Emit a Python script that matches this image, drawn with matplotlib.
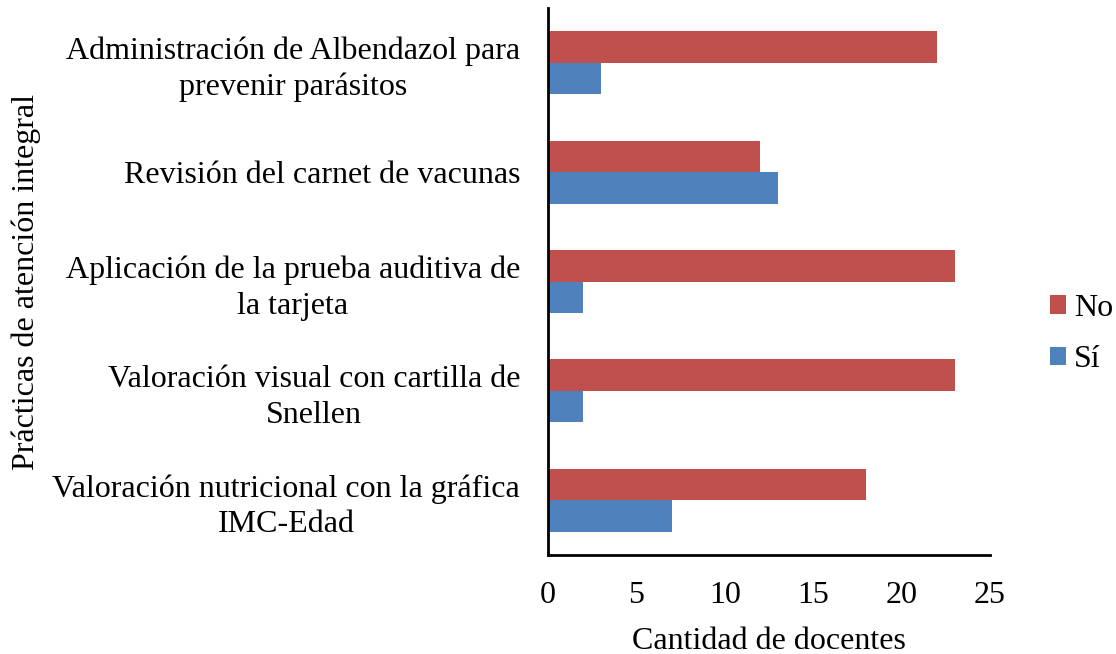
import numpy as np
import matplotlib.pyplot as plt

categorias = [
    'Administración de Albendazol para\nprevenir parásitos',
    'Revisión del carnet de vacunas',
    'Aplicación de la prueba auditiva de\nla tarjeta',
    'Valoración visual con cartilla de\nSnellen',
    'Valoración nutricional con la gráfica\nIMC-Edad',
]
no_vals = [22, 12, 23, 23, 18]
si_vals = [3, 13, 2, 2, 7]

plt.rcParams['font.family'] = ['Liberation Serif', 'DejaVu Serif']

fig = plt.figure(figsize=(11.16, 6.54), dpi=100)
ax = fig.add_axes([548 / 1116, 1 - 555 / 654, (990 - 548) / 1116, (555 - 8) / 654])

y = np.arange(len(categorias))[::-1]
h = 0.2875
b_no = ax.barh(y + h / 2, no_vals, height=h, color='#C0504D', label='No')
b_si = ax.barh(y - h / 2, si_vals, height=h, color='#4F81BD', label='Sí')

ax.set_xlim(0, 25)
ax.set_ylim(-0.5, len(categorias) - 0.5)
ax.set_xticks(range(0, 26, 5))
ax.set_yticks(y)
ax.set_yticklabels(categorias, fontsize=23, linespacing=1.29, multialignment='center')
ax.tick_params(axis='x', labelsize=23, length=0, pad=19)
ax.tick_params(axis='y', length=0, pad=20)
for s in ['top', 'right']:
    ax.spines[s].set_visible(False)
ax.spines['left'].set_linewidth(2)
ax.spines['bottom'].set_linewidth(2)

ax.set_xlabel('Cantidad de docentes', fontsize=23, labelpad=12)
fig.text(26 / 1116, 1 - 282 / 654, 'Prácticas de atención integral', fontsize=23,
         rotation=90, ha='center', va='center')

fig.legend(handles=[b_no, b_si], loc='center left', bbox_to_anchor=(1050 / 1116, 1 - 334 / 654),
           frameon=False, fontsize=23, handlelength=0.5, handleheight=0.5,
           handletextpad=0.25, labelspacing=0.7, borderpad=0, borderaxespad=0)

plt.savefig('out.png')
plt.close()
